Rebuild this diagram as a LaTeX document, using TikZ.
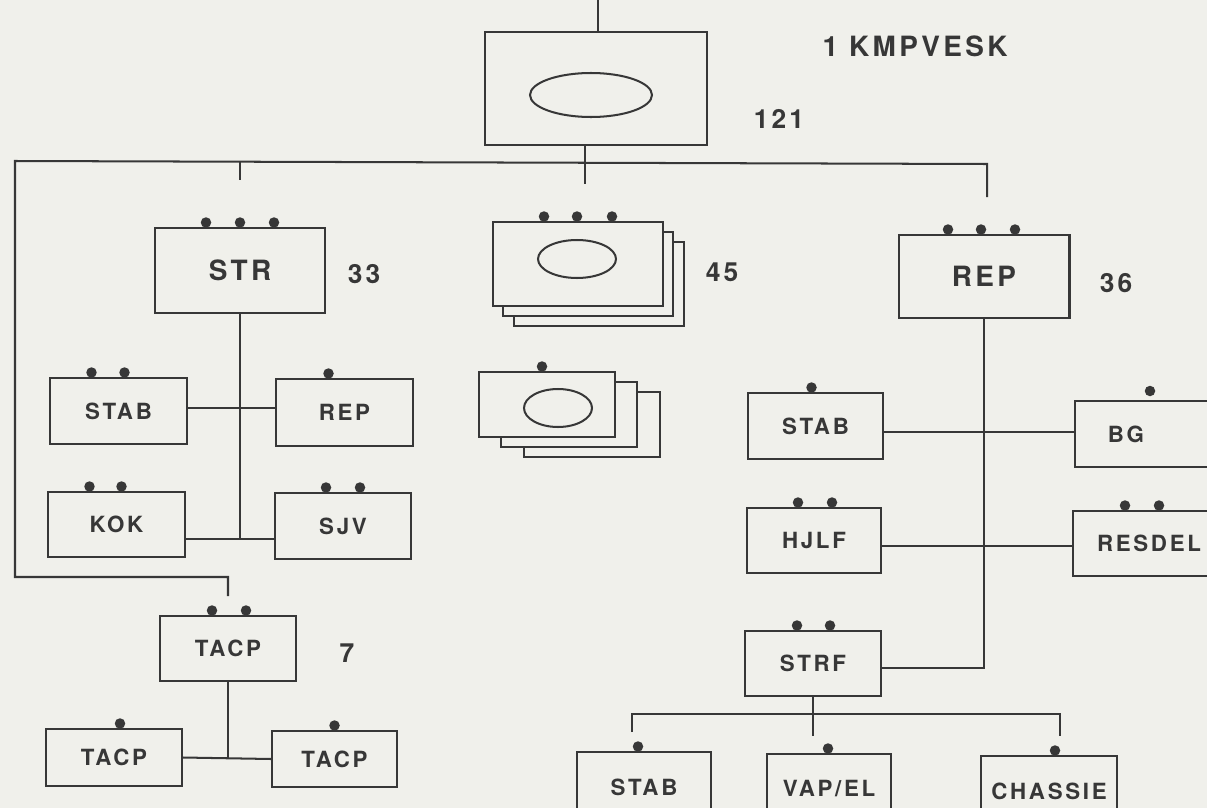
\documentclass[tikz,border=0pt]{standalone}
\usepackage{fontspec}
\setmainfont{TeX Gyre Heros}[LetterSpace=12]
\usetikzlibrary{shapes.geometric}
\definecolor{ink}{RGB}{55,55,55}
\definecolor{paper}{RGB}{240,240,235}
\tikzstyle{unit} = [
    rectangle,
    draw=ink,
    line width=1.15pt,
    fill=paper,
    text=ink,
    inner sep=0pt,
    font=\bfseries\fontsize{12.7}{14}\selectfont
]
\tikzstyle{bigunit} = [
    unit,
    font=\bfseries\fontsize{15.9}{18}\selectfont
]
\tikzstyle{sheet} = [
    rectangle,
    draw=ink,
    line width=1.15pt,
    fill=paper
]
\tikzstyle{eye} = [
    ellipse,
    draw=ink,
    line width=1.15pt,
    inner sep=0pt
]
\tikzstyle{strength} = [
    text=ink,
    font=\bfseries\fontsize{15}{18}\selectfont
]
\tikzstyle{link} = [
    draw=ink,
    line width=1.15pt
]
% dots on the top edge of a unit box
\newcommand{\knobs}[2]{%
    \foreach \dx in {#2} {
        \fill[ink] ([xshift=\dx*0.02cm, yshift=0.09cm]#1.north) circle (0.105cm);
    }%
}

\begin{document}
\begin{tikzpicture}[x=0.02cm, y=-0.02cm]
    \fill[paper] (0,0) rectangle (1207,808);
    \useasboundingbox (0,0) rectangle (1207,808);

    % company staff
    \node[unit, minimum width=4.44cm, minimum height=2.26cm] (kmp) at (596,88.5) {};
    \node[eye, minimum width=2.44cm, minimum height=0.88cm] (kmpeye) at (591,95) {};
    \node[strength, font=\bfseries\fontsize{15.9}{18}\selectfont] (kmpname) at (915,46) {1 KMPVESK};
    \node[strength] (kmpnum) at (779,119) {121};

    % platoons
    \node[bigunit, minimum width=3.4cm, minimum height=1.7cm] (str) at (240,270.5) {STR};
    \knobs{str}{-34,0,34}
    \node[strength] (strnum) at (364,274) {33};

    \node[sheet, minimum width=3.4cm, minimum height=1.68cm] (patc) at (599,284) {};
    \node[sheet, minimum width=3.4cm, minimum height=1.68cm] (patb) at (588,274) {};
    \node[unit, minimum width=3.4cm, minimum height=1.68cm] (pat) at (578,264) {};
    \node[eye, minimum width=1.56cm, minimum height=0.76cm] (pateye) at (577,259) {};
    \knobs{pat}{-34,-1,34}
    \node[strength] (patnum) at (722,272) {45};

    \node[sheet, minimum width=2.72cm, minimum height=1.3cm] (grpc) at (592,424.5) {};
    \node[sheet, minimum width=2.72cm, minimum height=1.3cm] (grpb) at (569,414.5) {};
    \node[unit, minimum width=2.72cm, minimum height=1.3cm] (grp) at (547,404.5) {};
    \node[eye, minimum width=1.36cm, minimum height=0.76cm] (grpeye) at (558,408) {};
    \knobs{grp}{-5}

    \node[bigunit, minimum width=3.42cm, minimum height=1.66cm] (rep) at (984,276.5) {REP};
    \knobs{rep}{-36,-3,31}
    \node[strength] (repnum) at (1116,283) {36};

    % STR groups
    \node[unit, minimum width=2.74cm, minimum height=1.32cm] (strstab) at (118.5,411) {STAB};
    \knobs{strstab}{-27,6}
    \node[unit, minimum width=2.74cm, minimum height=1.34cm] (strrep) at (344.5,412.5) {REP};
    \knobs{strrep}{-16}
    \node[unit, minimum width=2.74cm, minimum height=1.3cm] (kok) at (116.5,524.5) {KOK};
    \knobs{kok}{-27,5}
    \node[unit, minimum width=2.72cm, minimum height=1.32cm] (sjv) at (343,526) {SJV};
    \knobs{sjv}{-17,17}

    % TACP
    \node[unit, minimum width=2.72cm, minimum height=1.3cm] (tacp) at (228,648.5) {TACP};
    \knobs{tacp}{-16,18}
    \node[strength] (tacpnum) at (347,653) {7};
    \node[unit, minimum width=2.72cm, minimum height=1.14cm] (tacpl) at (114,757.5) {TACP};
    \knobs{tacpl}{6}
    \node[unit, minimum width=2.5cm, minimum height=1.12cm] (tacpr) at (334.5,759) {TACP};
    \knobs{tacpr}{0}

    % REP groups
    \node[unit, minimum width=2.7cm, minimum height=1.32cm] (repstab) at (815.5,426) {STAB};
    \knobs{repstab}{-4}
    \node[unit, minimum width=3.0cm, minimum height=1.32cm,
        label={[text=ink, font=\bfseries\fontsize{12.7}{14}\selectfont, xshift=-0.48cm]center:BG}] (bg) at (1150,434) {};
    \fill[ink] ([yshift=0.18cm]bg.north) circle (0.105cm);
    \node[unit, minimum width=2.68cm, minimum height=1.3cm] (hjlf) at (814,540.5) {HJLF};
    \knobs{hjlf}{-16,18}
    \node[unit, minimum width=3.04cm, minimum height=1.3cm] (resdel) at (1149,543.5) {RESDEL};
    \knobs{resdel}{-24,10}
    \node[unit, minimum width=2.72cm, minimum height=1.3cm] (strf) at (813,663.5) {STRF};
    \knobs{strf}{-16,17}

    \node[unit, minimum width=2.68cm, minimum height=1.4cm] (strfstab) at (644,787) {STAB};
    \knobs{strfstab}{-6}
    \node[unit, minimum width=2.48cm, minimum height=1.4cm] (vapel) at (829,789) {VAP/EL};
    \knobs{vapel}{-1}
    \node[unit, minimum width=2.72cm, minimum height=1.4cm] (chassie) at (1049,791) {CHASSIE};
    \knobs{chassie}{6}

    % connectors
    \coordinate (feed) at (598,0);
    \coordinate (busl) at (15,161);
    \coordinate (busr) at (987,164);
    \draw[link] (feed) -- (feed |- kmp.north);
    \draw[link] ([xshift=-0.22cm]kmp.south) -- ++(0,38);
    \draw[link] (tacp.north) ++(0,-19) |- (15,577) -- (busl) -- (busr) -- ++(0,33);
    \draw[link] (str.north |- busl) -- ++(0,19);

    \draw[link] (str.south) -- (str.south |- 0,539) coordinate (strj);
    \draw[link] (strstab.east |- 0,408) -- (strrep.west |- 0,408);
    \draw[link] (kok.east |- strj) -- (sjv.west |- strj);

    \draw[link] (tacp.south) -- (tacp.south |- tacpl.east);
    \draw[link] (tacpl.east) -- (tacpr.west);

    \draw[link] (rep.south) -- (rep.south |- 0,668) -- (strf.east |- 0,668);
    \draw[link] (repstab.east |- 0,432) -- (bg.west |- 0,432);
    \draw[link] (hjlf.east |- 0,546) -- (resdel.west |- 0,546);

    \draw[link] (strf.south) -- ++(0,39);
    \coordinate (strfj) at (strf.south |- 0,714);
    \draw[link] ([xshift=-0.24cm, yshift=0.38cm]strfstab.north) |- (strfj)
        -| ([xshift=0.22cm, yshift=0.38cm]chassie.north);
\end{tikzpicture}
\end{document}
